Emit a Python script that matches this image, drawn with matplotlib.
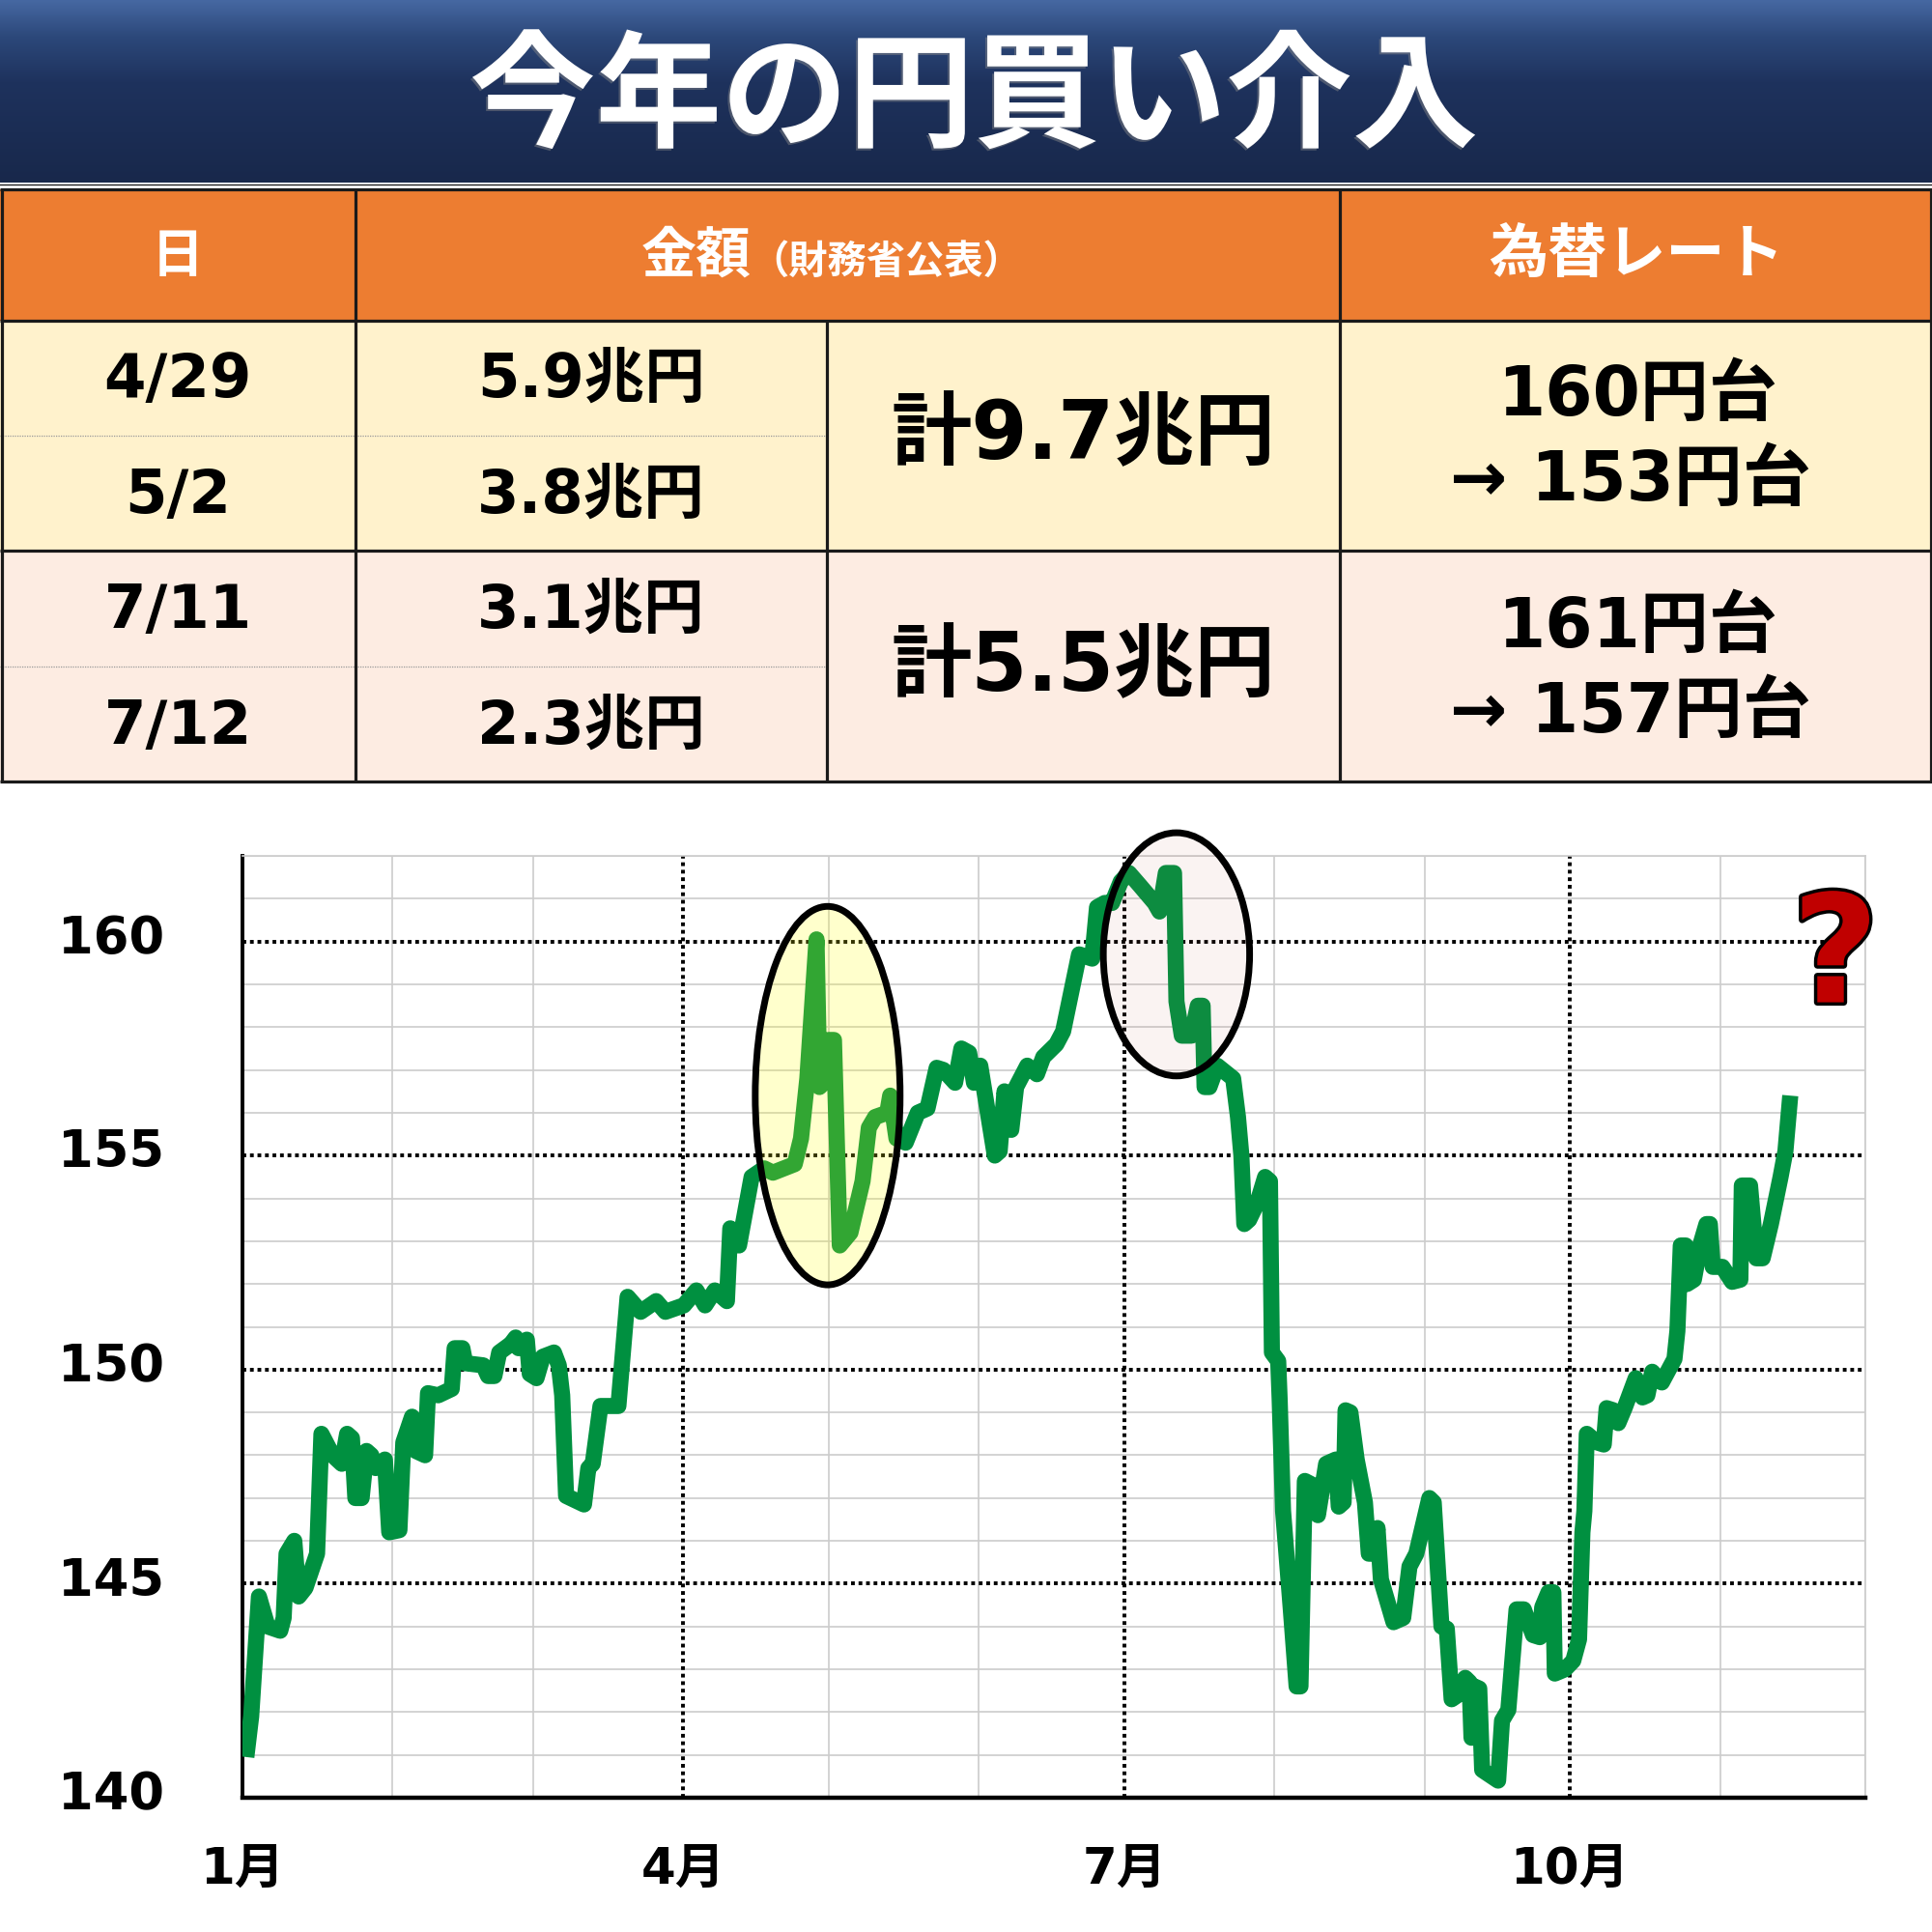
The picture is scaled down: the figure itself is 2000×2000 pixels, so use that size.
import numpy as np
import matplotlib
matplotlib.use('Agg')
import matplotlib.pyplot as plt
from matplotlib.patches import Rectangle, Ellipse
import matplotlib.patheffects as pe
import matplotlib.transforms as mtransforms

plt.rcParams['font.family'] = ['DejaVu Sans', 'Noto Sans CJK JP']

# ---------------- data ----------------
TITLE = '今年の円買い介入'
HEAD_DATE = '日'
HEAD_AMOUNT = '金額'
HEAD_AMOUNT_NOTE = '（財務省公表）'
HEAD_RATE = '為替レート'
DATES = ['4/29', '5/2', '7/11', '7/12']
AMOUNTS = ['5.9兆円', '3.8兆円', '3.1兆円', '2.3兆円']
TOTALS = ['計9.7兆円', '計5.5兆円']
RATE_FROM = ['160円台', '161円台']
RATE_TO = ['→ 153円台', '→ 157円台']

month_starts = [0, 31, 60, 91, 121, 152, 182, 213, 244, 274, 305, 335]
quarter_starts = [0, 91, 182, 274]
quarter_labels = ['1月', '4月', '7月', '10月']
y_major = [140, 145, 150, 155, 160]
y_minor = list(range(140, 163))

# day offset from Jan 1 (2024) and USD/JPY rate
days = [0.8, 1.8, 3.4, 5.2, 7.8, 8.5, 9.1, 10.7, 11.6, 13.0,
        15.4, 16.3, 18.6, 20.5, 21.6, 22.6, 23.3, 24.6, 25.6, 26.6,
        27.5, 29.4, 30.3, 32.4, 33.2, 35.0, 35.8, 37.7, 38.3, 40.4,
        43.2, 43.8, 45.4, 46.0, 49.7, 50.7, 52.0, 53.0, 55.4, 56.4,
        57.0, 58.7, 59.3, 60.7, 62.0, 64.3, 65.3, 66.0, 66.8, 70.5,
        71.4, 72.3, 73.9, 77.6, 79.5, 82.2, 85.4, 87.3, 91.1, 93.7,
        95.5, 97.5, 100.0, 100.7, 102.5, 105.1, 107.7, 109.5, 114.0, 115.3,
        116.6, 118.5, 119.1, 120.0, 121.0, 122.1, 123.3, 125.5, 128.0, 129.3,
        130.6, 133.1, 133.7, 135.0, 136.9, 139.4, 141.4, 143.3, 144.7, 147.1,
        148.4, 150.0, 151.0, 152.3, 155.3, 156.3, 157.3, 158.7, 159.7, 162.0,
        164.0, 165.3, 168.0, 169.4, 172.7, 175.4, 176.4, 178.0, 179.5, 181.3,
        183.0, 185.3, 188.3, 189.3, 190.6, 192.3, 192.8, 193.9, 195.9, 197.2,
        198.2, 198.6, 199.6, 201.2, 204.5, 205.5, 206.2, 206.8, 207.8, 209.5,
        211.1, 212.1, 212.5, 213.8, 214.1, 214.8, 216.4, 217.6, 218.4, 219.3,
        221.0, 222.0, 223.7, 225.7, 226.3, 227.3, 227.7, 228.7, 230.0, 231.7,
        232.5, 233.7, 234.3, 235.0, 237.6, 239.6, 240.9, 242.3, 245.0, 245.9,
        247.5, 248.6, 249.6, 250.9, 252.4, 253.3, 253.7, 254.3, 255.3, 255.9,
        259.2, 260.0, 261.3, 263.0, 264.5, 266.4, 267.8, 268.3, 269.6, 270.6,
        270.9, 273.0, 274.7, 275.9, 276.6, 277.0, 277.5, 279.6, 281.0, 281.6,
        283.0, 284.0, 285.3, 287.6, 289.0, 290.0, 291.0, 293.0, 295.6, 296.2,
        296.9, 297.9, 298.2, 299.6, 300.9, 302.2, 302.9, 303.5, 305.5, 307.5,
        309.2, 309.5, 311.2, 312.5, 313.8, 315.5, 317.5, 318.5, 319.5]
rates = [140.95, 141.9, 144.7, 144.0, 143.9, 144.2, 145.7, 146.0, 144.7, 144.9,
         145.7, 148.5, 148.0, 147.8, 148.5, 148.4, 147.0, 147.0, 148.1, 148.0,
         147.7, 147.9, 146.2, 146.25, 148.3, 148.9, 148.1, 148.0, 149.45, 149.4,
         149.55, 150.5, 150.5, 150.15, 150.1, 149.85, 149.85, 150.4, 150.6, 150.75,
         150.5, 150.7, 149.9, 149.8, 150.3, 150.4, 150.1, 149.4, 147.05, 146.85,
         147.7, 147.8, 149.15, 149.15, 151.7, 151.35, 151.6, 151.35, 151.5, 151.85,
         151.5, 151.85, 151.6, 153.3, 152.9, 154.5, 154.7, 154.6, 154.8, 155.4,
         156.8, 160.05, 156.6, 156.7, 157.7, 157.7, 152.9, 153.2, 154.4, 155.65,
         155.9, 156.0, 156.4, 155.4, 155.3, 156.0, 156.1, 157.05, 157.0, 156.7,
         157.5, 157.4, 156.7, 157.1, 155.0, 155.1, 156.5, 155.6, 156.6, 157.1,
         156.9, 157.3, 157.6, 157.9, 159.7, 159.6, 160.8, 160.9, 160.9, 161.4,
         161.6, 161.3, 160.9, 160.7, 161.6, 161.6, 158.6, 157.8, 157.8, 158.5,
         158.5, 156.6, 156.6, 157.1, 156.8, 155.9, 155.0, 153.4, 153.5, 153.9,
         154.5, 154.4, 150.4, 150.2, 149.3, 146.7, 144.4, 142.6, 142.6, 147.4,
         147.3, 146.6, 147.8, 147.9, 146.8, 146.9, 149.05, 149.0, 147.9, 146.9,
         145.7, 145.7, 146.3, 145.1, 144.1, 144.2, 145.4, 145.7, 147.0, 146.9,
         144.0, 143.95, 142.3, 142.4, 142.8, 142.7, 141.4, 142.6, 142.55, 140.65,
         140.4, 141.8, 142.05, 144.4, 144.4, 143.8, 143.75, 144.45, 144.8, 144.8,
         142.9, 143.0, 143.2, 143.7, 146.2, 146.7, 148.5, 148.3, 148.25, 149.1,
         149.05, 148.75, 149.1, 149.8, 149.35, 149.4, 149.95, 149.7, 150.25, 150.9,
         152.9, 152.9, 152.0, 152.1, 152.9, 153.4, 153.4, 152.4, 152.4, 152.05,
         152.1, 154.3, 154.3, 152.6, 152.6, 153.4, 154.5, 155.1, 156.4]

# highlight ellipses: (center day, center rate, width days, height yen)
highlight_1 = (120.8, 156.4, 29.9, 8.84)
highlight_2 = (192.8, 159.7, 30.2, 5.68)

# ---------------- figure ----------------
W, H = 2000, 2000
fig = plt.figure(figsize=(20, 20), dpi=100)
fig.patch.set_facecolor('white')

bg = fig.add_axes([0, 0, 1, 1], zorder=0)
bg.set_xlim(0, W)
bg.set_ylim(H, 0)
bg.axis('off')

# title banner gradient
yy = np.linspace(0, 1, 200)
stops = [0.0, 0.2, 0.45, 1.0]
cols = np.array([[70, 104, 162], [44, 72, 122], [30, 50, 93], [24, 40, 75]]) / 255.0
grad = np.stack([np.interp(yy, stops, cols[:, i]) for i in range(3)], axis=1)
grad = np.repeat(grad[:, None, :], 2, axis=1)
bg.imshow(grad, extent=[0, W, 189, 0], aspect='auto', zorder=0, interpolation='bilinear')
bg.plot([0, W], [190.5, 190.5], color='#222222', lw=1.0, zorder=1)

bg.text(1008, 104, TITLE, color='white', fontsize=94, fontweight='bold',
        family=['Noto Sans CJK JP'], ha='center', va='center', zorder=3,
        path_effects=[pe.SimplePatchShadow(offset=(-1.5, -1.5), shadow_rgbFace='#8a8a8a', alpha=0.45),
                      pe.Normal()])

# table geometry
cx = [0, 368, 856, 1387, W]
ry = [196, 332, 451, 570, 690, 809]
orange = '#ED7D31'
yellow = '#FFF2CC'
peach = '#FDECE2'
blc = '#1a1a1a'

bg.add_patch(Rectangle((0, ry[0]), W, ry[1] - ry[0], facecolor=orange, edgecolor='none', zorder=1))
bg.add_patch(Rectangle((0, ry[1]), W, ry[3] - ry[1], facecolor=yellow, edgecolor='none', zorder=1))
bg.add_patch(Rectangle((0, ry[3]), W, ry[5] - ry[3], facecolor=peach, edgecolor='none', zorder=1))

lwb = 2.3
for y in [ry[0], ry[1], ry[3], ry[5]]:
    bg.plot([0, W], [y, y], color=blc, lw=lwb, zorder=2, solid_capstyle='butt')
for y in [ry[2], ry[4]]:
    bg.plot([0, cx[2]], [y, y], color='#9a9a9a', lw=0.9, ls=(0, (1, 1)), zorder=2)
for x in [1.5, cx[1], cx[3], W - 1.5]:
    bg.plot([x, x], [ry[0], ry[5]], color=blc, lw=lwb, zorder=2, solid_capstyle='butt')
bg.plot([cx[2], cx[2]], [ry[1], ry[5]], color=blc, lw=lwb, zorder=2, solid_capstyle='butt')

# header texts
hy = 266
bg.text((cx[0] + cx[1]) / 2, hy, HEAD_DATE, color='white', fontsize=39, fontweight='bold',
        ha='center', va='center', zorder=3)
bg.text(778, hy, HEAD_AMOUNT, color='white', fontsize=41, fontweight='bold',
        ha='right', va='center', zorder=3)
bg.text(776, hy + 6, HEAD_AMOUNT_NOTE, color='white', fontsize=29, fontweight='bold',
        ha='left', va='center', zorder=3)
bg.text((cx[3] + cx[4]) / 2, hy, HEAD_RATE, color='white', fontsize=44, fontweight='bold',
        ha='center', va='center', zorder=3)

# body texts
row_centers = [394, 514, 633, 753]
for i in range(4):
    bg.text((cx[0] + cx[1]) / 2, row_centers[i], DATES[i], fontsize=45, fontweight='bold',
            ha='center', va='center', zorder=3, color='black')
    bg.text((cx[1] + cx[2]) / 2, row_centers[i], AMOUNTS[i], fontsize=45, fontweight='bold',
            ha='center', va='center', zorder=3, color='black')
group_centers = [452, 692]
for g in range(2):
    bg.text((cx[2] + cx[3]) / 2, group_centers[g], TOTALS[g], fontsize=60, fontweight='bold',
            ha='center', va='center', zorder=3, color='black')
    bg.text(1695, group_centers[g] - 42, RATE_FROM[g], fontsize=51, fontweight='bold',
            ha='center', va='center', zorder=3, color='black')
    bg.text(1688, group_centers[g] + 46, RATE_TO[g], fontsize=51, fontweight='bold',
            ha='center', va='center', zorder=3, color='black')

# ---------------- chart ----------------
ax = fig.add_axes([251 / W, 1 - 1861 / H, 1680 / W, 975 / H], zorder=1)
ax.set_facecolor('none')
ax.set_xlim(month_starts[0], month_starts[-1])
ax.set_ylim(y_minor[0], y_minor[-1])

grid_gray = '#cccccc'
dot = (0, (1, 1))
for m in month_starts[1:]:
    if m not in quarter_starts:
        ax.axvline(m, color=grid_gray, lw=1.2, zorder=1)
for q in quarter_starts[1:]:
    ax.axvline(q, color='black', lw=2.8, ls=dot, zorder=2)
for y in y_minor[1:]:
    if y not in y_major:
        ax.axhline(y, color=grid_gray, lw=1.2, zorder=1)
for y in y_major[1:]:
    ax.axhline(y, color='black', lw=2.8, ls=dot, zorder=2)

for s in ['top', 'right']:
    ax.spines[s].set_color(grid_gray)
    ax.spines[s].set_linewidth(1.2)
ax.spines['left'].set_linestyle(dot)
ax.spines['left'].set_linewidth(2.8)
ax.spines['bottom'].set_linewidth(3.2)
ax.spines['bottom'].set_color('black')

ax.plot(days, rates, color='#009040', lw=12, solid_joinstyle='round',
        solid_capstyle='butt', zorder=3)

e1 = Ellipse(highlight_1[:2], highlight_1[2], highlight_1[3], facecolor=(1, 1, 0, 0.2),
             edgecolor='black', lw=5, zorder=4, clip_on=False)
e2 = Ellipse(highlight_2[:2], highlight_2[2], highlight_2[3], facecolor=(0.75, 0.35, 0.3, 0.07),
             edgecolor='black', lw=5, zorder=4, clip_on=False)
ax.add_patch(e1)
ax.add_patch(e2)

ax.text(328.8, 159.55, '?', color='#C00000', fontsize=112, fontweight='bold',
        ha='center', va='center', zorder=5, clip_on=False,
        path_effects=[pe.Stroke(linewidth=5, foreground='black'), pe.Normal()])

ax.set_yticks(y_major)
ax.set_yticklabels([str(v) for v in y_major], fontsize=38, fontweight='bold')
ax.set_xticks(quarter_starts)
ax.set_xticklabels(quarter_labels, fontsize=37, fontweight='bold')
ax.tick_params(axis='both', length=0)
ax.tick_params(axis='y', pad=58)
ax.tick_params(axis='x', pad=36)
shift = mtransforms.ScaledTranslation(0, 6 / 72, fig.dpi_scale_trans)
for lab in ax.get_yticklabels():
    lab.set_transform(lab.get_transform() + shift)

fig.savefig('out.png', dpi=100, facecolor='white')
